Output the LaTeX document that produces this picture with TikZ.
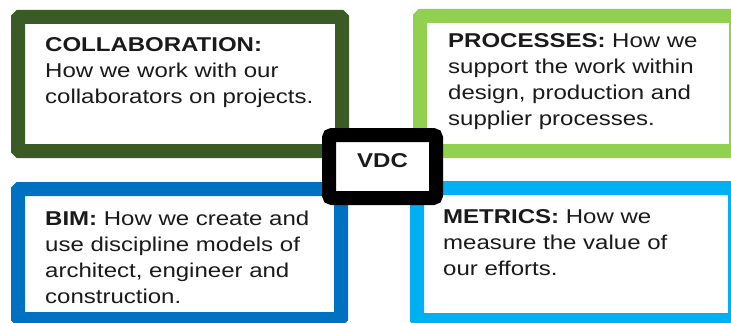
\documentclass[tikz,border=0pt]{standalone}
\usepackage{fontspec}
\setmainfont{Liberation Sans}[FakeStretch=1.2]
\usetikzlibrary{calc}

\definecolor{collabgreen}{HTML}{3A5A26}
\definecolor{processlime}{HTML}{92D050}
\definecolor{bimblue}{HTML}{0070C0}
\definecolor{metriccyan}{HTML}{00B0F0}
\definecolor{bodytext}{HTML}{1A1A1A}

\tikzset{
  framebox/.style={rectangle, fill=white, line width=14pt, rounded corners=1.5pt,
    inner sep=0pt, outer sep=0pt},
  hubbox/.style={framebox, draw=black, line width=14pt, rounded corners=3pt},
  boxtext/.style={anchor=north west, inner sep=0pt, align=left, text=bodytext,
    font=\fontsize{20}{26}\selectfont},
  hubtext/.style={inner sep=0pt, text=bodytext, font=\fontsize{20}{26}\selectfont\bfseries}
}

\begin{document}
\begin{tikzpicture}[x=1pt, y=1pt]
  \useasboundingbox (0,0) rectangle (731,322);
  \clip (0,0) rectangle (731,322);

  % four quadrant frames
  \node[framebox, draw=collabgreen, minimum width=324pt, minimum height=134pt]
    (collab) at (180,238) {};
  \node[framebox, draw=processlime, minimum width=316pt, minimum height=135pt]
    (process) at (578,238.5) {};
  \node[framebox, draw=bimblue, minimum width=323pt, minimum height=130pt]
    (bim) at (179.5,68) {};
  \node[framebox, draw=metriccyan, minimum width=318pt, minimum height=132pt]
    (metric) at (576,68) {};

  % quadrant texts
  \node[boxtext] (collabtxt) at ($(collab.north west)+(27,-20)$)
    {\textbf{COLLABORATION:}\\How we work with our\\collaborators on projects.};
  \node[boxtext] (processtxt) at ($(process.north west)+(28,-17)$)
    {\textbf{PROCESSES:} How we\\support the work within\\design, production and\\supplier processes.};
  \node[boxtext] (bimtxt) at ($(bim.north west)+(27,-22)$)
    {\textbf{BIM:} How we create and\\use discipline models of\\architect, engineer and\\construction.};
  \node[boxtext] (metrictxt) at ($(metric.north west)+(26,-21)$)
    {\textbf{METRICS:} How we\\measure the value of\\our efforts.};

  % central hub
  \node[hubbox, minimum width=107pt, minimum height=63pt] (hub) at (382.5,155.5) {};
  \node[hubtext, anchor=base] (hubtxt) at ($(hub.center)+(0,-0.5)$) {VDC};
\end{tikzpicture}
\end{document}
